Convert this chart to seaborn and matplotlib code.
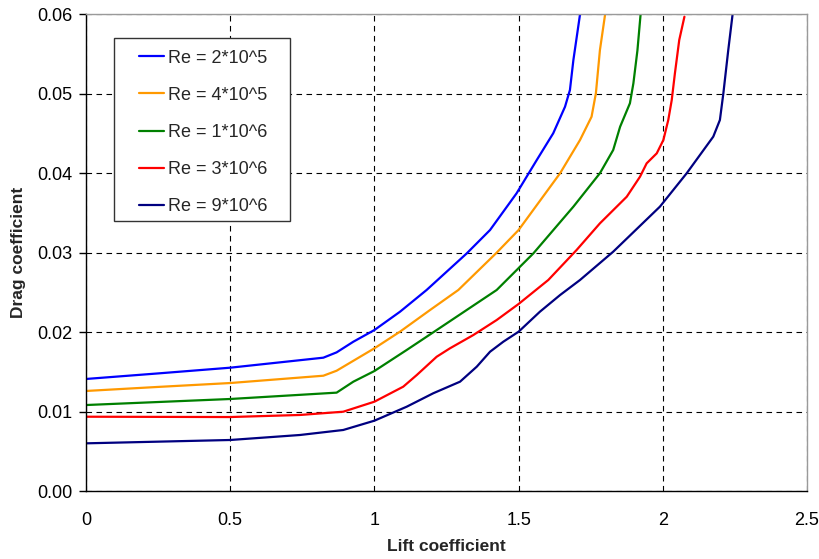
import matplotlib
matplotlib.use("Agg")
import matplotlib.pyplot as plt
from matplotlib.patches import Rectangle
import seaborn as sns
import pandas as pd

labels = ["Re = 2*10^5", "Re = 4*10^5", "Re = 1*10^6", "Re = 3*10^6", "Re = 9*10^6"]
colors = ["#0000FF", "#FF9900", "#008000", "#FF0000", "#000080"]

cl_2e5 = [0, 0.25, 0.5, 0.823, 0.869, 0.927, 1.0, 1.089, 1.181, 1.32, 1.401, 1.493, 1.563, 1.62, 1.661, 1.678, 1.69, 1.713]
cd_2e5 = [0.0141, 0.0148, 0.01552, 0.01678, 0.01745, 0.01879, 0.02026, 0.02257, 0.0253, 0.0299, 0.03285, 0.03747, 0.04166, 0.04502, 0.04837, 0.05047, 0.05425, 0.06]

cl_4e5 = [0, 0.25, 0.5, 0.823, 0.869, 1.0, 1.089, 1.193, 1.291, 1.424, 1.5, 1.644, 1.713, 1.753, 1.768, 1.782, 1.8]
cd_4e5 = [0.01259, 0.0131, 0.01359, 0.01451, 0.01514, 0.01796, 0.02006, 0.02278, 0.0253, 0.03, 0.03285, 0.04, 0.04418, 0.04711, 0.05006, 0.0555, 0.06]

cl_1e6 = [0, 0.25, 0.5, 0.869, 0.927, 1.0, 1.112, 1.216, 1.32, 1.424, 1.551, 1.69, 1.782, 1.828, 1.852, 1.886, 1.898, 1.912, 1.923]
cd_1e6 = [0.01082, 0.0112, 0.01158, 0.01238, 0.01376, 0.0151, 0.01775, 0.02026, 0.02278, 0.0253, 0.0299, 0.03579, 0.04, 0.04292, 0.04585, 0.0488, 0.05131, 0.05545, 0.06]

cl_3e6 = [0, 0.5, 0.742, 0.892, 1.0, 1.1, 1.147, 1.216, 1.262, 1.343, 1.424, 1.5, 1.603, 1.701, 1.782, 1.875, 1.921, 1.944, 1.979, 2.002, 2.019, 2.031, 2.042, 2.057, 2.075]
cd_3e6 = [0.00935, 0.00931, 0.00957, 0.00998, 0.01124, 0.01313, 0.0146, 0.0169, 0.01796, 0.01963, 0.02152, 0.02354, 0.02656, 0.03033, 0.03369, 0.03704, 0.03956, 0.04124, 0.0425, 0.04418, 0.0467, 0.04921, 0.05257, 0.05676, 0.0597]

cl_9e6 = [0, 0.5, 0.742, 0.892, 1.0, 1.112, 1.204, 1.297, 1.355, 1.401, 1.447, 1.5, 1.574, 1.644, 1.713, 1.828, 1.99, 2.083, 2.175, 2.198, 2.21, 2.227, 2.242]
cd_9e6 = [0.006, 0.00642, 0.00705, 0.00768, 0.00885, 0.01061, 0.0123, 0.01376, 0.01565, 0.01753, 0.01879, 0.02005, 0.02257, 0.02467, 0.02656, 0.03012, 0.03579, 0.04, 0.0446, 0.0467, 0.05006, 0.0555, 0.06]

x_ticks = [0, 0.5, 1, 1.5, 2, 2.5]
x_ticklabels = ["0", "0.5", "1", "1.5", "2", "2.5"]
y_ticks = [0.0, 0.01, 0.02, 0.03, 0.04, 0.05, 0.06]
y_ticklabels = ["0.00", "0.01", "0.02", "0.03", "0.04", "0.05", "0.06"]

series = [(cl_2e5, cd_2e5), (cl_4e5, cd_4e5), (cl_1e6, cd_1e6), (cl_3e6, cd_3e6), (cl_9e6, cd_9e6)]
frames = []
for lab, (xs, ys) in zip(labels, series):
    frames.append(pd.DataFrame({"CL": xs, "CD": ys, "Re": lab}))
df = pd.concat(frames, ignore_index=True)

sns.set_theme(style="white")
plt.rcParams["font.family"] = ["Liberation Sans", "DejaVu Sans"]

fig = plt.figure(figsize=(8.2, 5.59), dpi=100)
ax = fig.add_axes([86/820, 1-491/559, (807-86)/820, (491-14.3)/559])

sns.lineplot(data=df, x="CL", y="CD", hue="Re", hue_order=labels,
             palette=dict(zip(labels, colors)), sort=False, estimator=None,
             linewidth=1.6, ax=ax, legend=True)

ax.set_xlim(0, 2.5)
ax.set_ylim(0, 0.06)
ax.set_xticks(x_ticks)
ax.set_xticklabels(x_ticklabels)
ax.set_yticks(y_ticks)
ax.set_yticklabels(y_ticklabels)
ax.tick_params(axis="x", length=0, pad=15, labelsize=13, colors="black")
ax.tick_params(axis="y", length=5, width=1, direction="out", pad=5, labelsize=13, colors="black", left=True)

ax.grid(True, color="black", linestyle=(0, (5, 4)), linewidth=0.8)
ax.set_axisbelow(True)

for side in ["left", "bottom"]:
    ax.spines[side].set_color("black")
    ax.spines[side].set_linewidth(1.0)
for side in ["top", "right"]:
    ax.spines[side].set_color("#9a9a9a")
    ax.spines[side].set_linewidth(1.0)

ax.set_xlabel("Lift coefficient", fontsize=12.5, fontweight="bold", labelpad=7)
ax.set_ylabel("Drag coefficient", fontsize=12.5, fontweight="bold", labelpad=8)

# legend frame
ax.add_patch(Rectangle((0.0388, 0.5664), 0.2441, 0.3845, transform=ax.transAxes,
                       facecolor="white", edgecolor="#333333", linewidth=1.0, zorder=4))

handles, lbls = ax.get_legend_handles_labels()
leg = ax.legend(handles, lbls, loc="upper left", bbox_to_anchor=(0.0735, 0.926),
                borderaxespad=0, fontsize=13, frameon=False,
                handlelength=1.4, handletextpad=0.2, labelspacing=1.12,
                borderpad=0)
leg.set_zorder(5)
for line in leg.get_lines():
    line.set_linewidth(1.6)

fig.savefig("out.png", dpi=100)
